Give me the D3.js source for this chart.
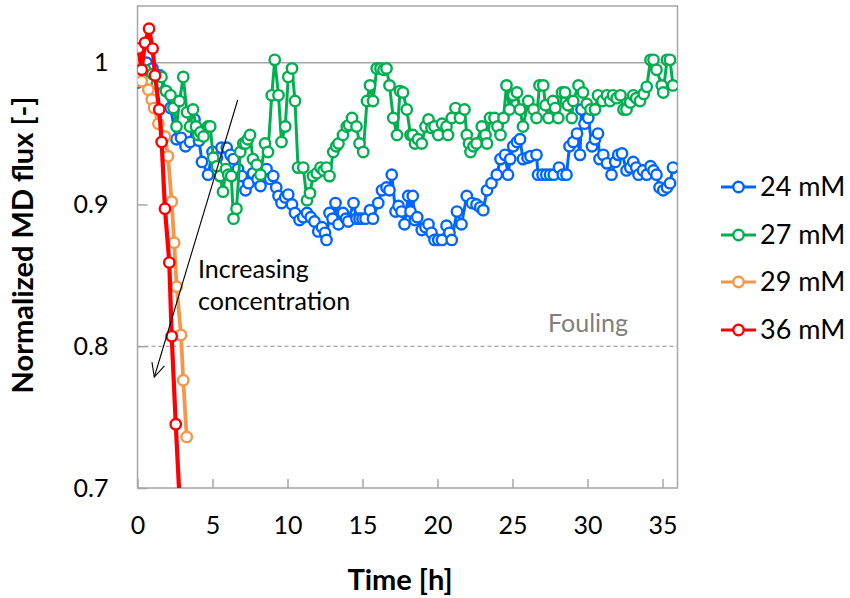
<!DOCTYPE html>
<html>
<head>
<meta charset="utf-8">
<script src="https://cdn.jsdelivr.net/npm/d3@7/dist/d3.min.js"></script>
<style>
  html, body { margin: 0; padding: 0; background: #fff; }
  svg { display: block; font-family: Lato, "Open Sans", sans-serif; }
</style>
</head>
<body>
<svg id="chart" width="850" height="598"></svg>
<script>
// Normalized MD flux over time for four feed concentrations
const seriesNames = ["24 mM", "27 mM", "29 mM", "36 mM"];
const seriesColors = ["#0066FF", "#00B050", "#F79646", "#FF0000"];

// 24 mM: [time h, normalized flux]
const flux24 = [
  [0.0,0.986],[0.3,0.993],[0.6,1.000],[1.0,0.996],[1.5,0.991],[1.9,0.980],[2.2,0.968],[2.6,0.946],
  [2.9,0.947],[3.2,0.941],[3.5,0.944],[3.8,0.960],[4.1,0.945],[4.3,0.930],[4.7,0.921],[5.0,0.937],
  [5.3,0.933],[5.6,0.940],[5.95,0.940],[6.2,0.935],[6.4,0.932],[6.7,0.925],[6.95,0.920],[7.2,0.910],
  [7.4,0.915],[7.7,0.922],[8.0,0.918],[8.2,0.913],[8.6,0.925],[8.85,0.918],[9.05,0.920],[9.25,0.912],
  [9.4,0.906],[9.6,0.901],[9.85,0.905],[10.05,0.907],[10.3,0.900],[10.5,0.894],[10.8,0.889],[11.05,0.891],
  [11.3,0.894],[11.55,0.891],[11.8,0.888],[12.05,0.881],[12.3,0.884],[12.5,0.880],[12.6,0.875],[12.8,0.894],
  [13.0,0.890],[13.2,0.901],[13.4,0.886],[13.7,0.894],[13.9,0.890],[14.05,0.888],[14.4,0.901],[14.6,0.890],
  [14.8,0.890],[15.0,0.890],[15.2,0.890],[15.5,0.896],[15.7,0.890],[16.05,0.901],[16.3,0.910],[16.6,0.912],
  [16.8,0.910],[16.95,0.921],[17.2,0.895],[17.4,0.899],[17.6,0.895],[17.8,0.886],[18.05,0.906],[18.2,0.895],
  [18.35,0.906],[18.5,0.889],[18.65,0.891],[18.95,0.882],[19.2,0.884],[19.4,0.886],[19.6,0.880],[19.8,0.875],
  [20.05,0.875],[20.3,0.875],[20.6,0.885],[20.8,0.880],[20.95,0.875],[21.3,0.895],[21.6,0.886],[21.95,0.906],
  [22.3,0.901],[22.6,0.900],[22.85,0.898],[23.05,0.896],[23.3,0.910],[23.6,0.915],[23.95,0.921],[24.2,0.932],
  [24.5,0.935],[24.7,0.921],[24.85,0.932],[25.05,0.941],[25.3,0.944],[25.5,0.946],[25.7,0.932],[26.0,0.933],
  [26.2,0.934],[26.6,0.935],[26.7,0.921],[27.0,0.921],[27.25,0.921],[27.5,0.921],[27.75,0.921],[28.1,0.926],
  [28.35,0.921],[28.6,0.921],[28.8,0.941],[29.05,0.944],[29.3,0.950],[29.5,0.935],[29.6,0.967],[29.8,0.957],
  [30.05,0.961],[30.3,0.941],[30.5,0.946],[30.7,0.950],[30.8,0.932],[31.05,0.935],[31.3,0.929],[31.6,0.921],
  [31.85,0.930],[32.05,0.935],[32.3,0.936],[32.6,0.924],[32.85,0.926],[33.05,0.930],[33.25,0.926],[33.4,0.921],
  [33.7,0.924],[33.95,0.921],[34.2,0.927],[34.4,0.924],[34.6,0.921],[34.8,0.912],[35.05,0.910],[35.3,0.912],
  [35.5,0.915],[35.7,0.926]
];

// 27 mM
const flux27 = [
  [0.0,1.002],[0.1,0.990],[0.5,0.995],[1.0,0.992],[1.3,0.985],[1.6,0.990],[1.9,0.980],[2.2,0.977],
  [2.4,0.968],[2.6,0.955],[2.8,0.973],[3.05,0.990],[3.3,0.965],[3.5,0.955],[3.7,0.967],[3.9,0.955],
  [4.05,0.949],[4.2,0.951],[4.4,0.948],[4.7,0.955],[4.85,0.955],[5.05,0.933],[5.3,0.927],[5.5,0.920],
  [5.7,0.909],[5.9,0.925],[6.05,0.921],[6.25,0.920],[6.4,0.890],[6.6,0.897],[6.85,0.937],[7.05,0.943],
  [7.2,0.943],[7.35,0.946],[7.5,0.949],[7.7,0.932],[7.95,0.928],[8.2,0.921],[8.5,0.943],[8.7,0.937],
  [8.95,0.977],[9.15,1.002],[9.4,0.977],[9.6,0.944],[9.85,0.955],[10.05,0.990],[10.3,0.996],[10.5,0.973],
  [10.7,0.926],[11.05,0.926],[11.3,0.903],[11.5,0.908],[11.7,0.920],[11.95,0.922],[12.2,0.926],[12.4,0.924],
  [12.6,0.926],[12.8,0.920],[13.05,0.937],[13.25,0.941],[13.4,0.943],[13.7,0.949],[13.95,0.955],[14.1,0.956],
  [14.3,0.961],[14.6,0.955],[14.8,0.943],[15.05,0.937],[15.3,0.973],[15.5,0.984],[15.7,0.973],[15.95,0.996],
  [16.2,0.996],[16.4,0.995],[16.6,0.996],[16.8,0.984],[17.05,0.961],[17.3,0.949],[17.5,0.980],[17.7,0.979],
  [17.95,0.967],[18.2,0.949],[18.35,0.949],[18.5,0.943],[18.7,0.946],[18.95,0.943],[19.2,0.955],[19.4,0.960],
  [19.6,0.954],[19.8,0.955],[20.05,0.949],[20.3,0.957],[20.6,0.955],[20.7,0.949],[20.95,0.961],[21.2,0.968],
  [21.5,0.961],[21.8,0.967],[21.95,0.949],[22.1,0.943],[22.2,0.937],[22.4,0.941],[22.6,0.943],[22.95,0.955],
  [23.2,0.949],[23.3,0.943],[23.5,0.961],[23.8,0.961],[24.0,0.955],[24.2,0.949],[24.4,0.961],[24.6,0.984],
  [24.8,0.967],[25.05,0.977],[25.3,0.979],[25.5,0.967],[25.7,0.955],[26.05,0.973],[26.4,0.967],[26.6,0.961],
  [26.8,0.984],[27.05,0.984],[27.2,0.970],[27.4,0.961],[27.7,0.973],[27.85,0.968],[28.05,0.961],[28.3,0.979],
  [28.5,0.979],[28.7,0.970],[28.95,0.961],[29.05,0.973],[29.4,0.984],[29.7,0.979],[29.95,0.971],[30.2,0.967],
  [30.5,0.967],[30.7,0.977],[31.0,0.973],[31.3,0.977],[31.5,0.973],[31.7,0.977],[31.95,0.975],[32.2,0.977],
  [32.4,0.967],[32.6,0.967],[32.85,0.972],[33.05,0.977],[33.25,0.975],[33.5,0.973],[33.75,0.978],[33.95,0.983],
  [34.2,1.002],[34.4,1.002],[34.6,0.995],[34.95,0.984],[35.05,0.979],[35.3,1.002],[35.5,1.002],[35.7,0.984]
];

// 29 mM
const flux29 = [
  [0.1,0.990],[0.28,0.987],[0.72,0.981],[0.95,0.974],[1.1,0.968],[1.39,0.957],[1.83,0.948],
  [2.03,0.934],[2.28,0.902],[2.45,0.873],[2.61,0.842],[2.9,0.808],[3.05,0.776],[3.28,0.736]
];

// 36 mM (last reading falls below the axis minimum)
const flux36 = [
  [0.05,1.010],[0.28,0.995],[0.5,1.014],[0.77,1.024],[1.01,1.010],[1.17,0.991],[1.45,0.967],
  [1.61,0.944],[1.83,0.897],[2.12,0.859],[2.28,0.807],[2.55,0.745],[2.9,0.672]
];

const xTicks = [0, 5, 10, 15, 20, 25, 30, 35];
const yTicks = [0.7, 0.8, 0.9, 1.0];
const foulingLevel = 0.8;
const referenceLevel = 1.0;

const allSeries = [flux24, flux27, flux29, flux36];

const svg = d3.select("#chart");
const plot = { left: 137.5, right: 677.5, top: 6, bottom: 488 };

const x = d3.scaleLinear().domain([0, 36]).range([plot.left, plot.right]);
const y = d3.scaleLinear().domain([0.7, 1.04]).range([plot.bottom, plot.top]);

svg.append("defs").append("clipPath").attr("id", "plotClip")
  .append("rect")
  .attr("x", plot.left).attr("y", plot.top)
  .attr("width", plot.right - plot.left).attr("height", plot.bottom - plot.top);

// reference line at 1 and fouling threshold
svg.append("line")
  .attr("x1", plot.left).attr("x2", plot.right)
  .attr("y1", y(referenceLevel)).attr("y2", y(referenceLevel))
  .attr("stroke", "#A6A6A6").attr("stroke-width", 1.5);

svg.append("line")
  .attr("x1", plot.left).attr("x2", plot.right)
  .attr("y1", y(foulingLevel)).attr("y2", y(foulingLevel))
  .attr("stroke", "#8C8C8C").attr("stroke-width", 1)
  .attr("stroke-dasharray", "4,3");

// plot frame
svg.append("rect")
  .attr("x", plot.left).attr("y", plot.top)
  .attr("width", plot.right - plot.left).attr("height", plot.bottom - plot.top)
  .attr("fill", "none").attr("stroke", "#A6A6A6").attr("stroke-width", 1.5);

// axes with inward ticks
const yAxis = svg.append("g")
  .attr("transform", `translate(${plot.left},0)`)
  .call(d3.axisLeft(y).tickValues(yTicks).tickSize(-10).tickPadding(29)
    .tickFormat(d => d === 1 ? "1" : d3.format(".1f")(d)));
yAxis.select(".domain").remove();
yAxis.selectAll(".tick line").attr("stroke", "#A6A6A6").attr("stroke-width", 1.5);
yAxis.selectAll(".tick text").attr("font-size", 25).attr("fill", "#000")
  .attr("font-family", "Lato, sans-serif");

const xAxis = svg.append("g")
  .attr("transform", `translate(0,${plot.bottom})`)
  .call(d3.axisBottom(x).tickValues(xTicks).tickSize(-9).tickPadding(28));
xAxis.select(".domain").remove();
xAxis.selectAll(".tick line").attr("stroke", "#A6A6A6").attr("stroke-width", 1.5);
xAxis.selectAll(".tick text").attr("font-size", 25).attr("fill", "#000")
  .attr("font-family", "Lato, sans-serif");

// series lines and markers
const line = d3.line().x(d => x(d[0])).y(d => y(d[1]));
const lineWidths = [3, 3, 3.8, 4.2];
const markerR = 5.2, markerStroke = 2.4;

const dataLayer = svg.append("g").attr("clip-path", "url(#plotClip)");
allSeries.forEach((data, i) => {
  const g = dataLayer.append("g");
  g.append("path").datum(data)
    .attr("d", line)
    .attr("fill", "none")
    .attr("stroke", seriesColors[i])
    .attr("stroke-width", lineWidths[i])
    .attr("stroke-linejoin", "round");
  g.selectAll("circle").data(data).join("circle")
    .attr("cx", d => x(d[0])).attr("cy", d => y(d[1]))
    .attr("r", markerR)
    .attr("fill", "#fff")
    .attr("stroke", seriesColors[i])
    .attr("stroke-width", markerStroke);
});

// annotations
svg.append("text")
  .attr("x", 548).attr("y", 332)
  .attr("font-size", 25).attr("fill", "#7F7F7F")
  .text("Fouling");

const note = svg.append("text")
  .attr("x", 198).attr("font-size", 25).attr("fill", "#000");
note.append("tspan").attr("x", 198).attr("y", 278).text("Increasing");
note.append("tspan").attr("x", 198).attr("y", 310).text("concentration");

const arrowStart = [237.7, 100], arrowEnd = [154.3, 377];
svg.append("line")
  .attr("x1", arrowStart[0]).attr("y1", arrowStart[1])
  .attr("x2", arrowEnd[0]).attr("y2", arrowEnd[1])
  .attr("stroke", "#000").attr("stroke-width", 1.1);
{
  const ang = Math.atan2(arrowEnd[1] - arrowStart[1], arrowEnd[0] - arrowStart[0]);
  const len = 15, spread = 0.45;
  const p1 = [arrowEnd[0] - len * Math.cos(ang - spread), arrowEnd[1] - len * Math.sin(ang - spread)];
  const p2 = [arrowEnd[0] - len * Math.cos(ang + spread), arrowEnd[1] - len * Math.sin(ang + spread)];
  svg.append("path")
    .attr("d", `M${p1[0]},${p1[1]}L${arrowEnd[0]},${arrowEnd[1]}L${p2[0]},${p2[1]}`)
    .attr("fill", "none").attr("stroke", "#000").attr("stroke-width", 1.1);
}

// axis titles
svg.append("text")
  .attr("x", 400).attr("y", 590)
  .attr("text-anchor", "middle")
  .attr("font-size", 29).attr("font-weight", "bold")
  .text("Time [h]");

svg.append("text")
  .attr("transform", "translate(33,245) rotate(-90)")
  .attr("text-anchor", "middle")
  .attr("font-size", 29).attr("font-weight", "bold")
  .text("Normalized MD flux [-]");

// legend
const legend = svg.append("g");
const legendY = [187, 235, 282, 330];
seriesNames.forEach((name, i) => {
  const g = legend.append("g").attr("transform", `translate(0,${legendY[i]})`);
  g.append("line").attr("x1", 721).attr("x2", 756).attr("y1", 0).attr("y2", 0)
    .attr("stroke", seriesColors[i]).attr("stroke-width", 3);
  g.append("circle").attr("cx", 738.5).attr("cy", 0).attr("r", markerR)
    .attr("fill", "#fff").attr("stroke", seriesColors[i]).attr("stroke-width", markerStroke);
  g.append("text").attr("x", 760).attr("y", 0).attr("dy", "0.35em")
    .attr("font-size", 27).attr("fill", "#000").text(name);
});
</script>
</body>
</html>
